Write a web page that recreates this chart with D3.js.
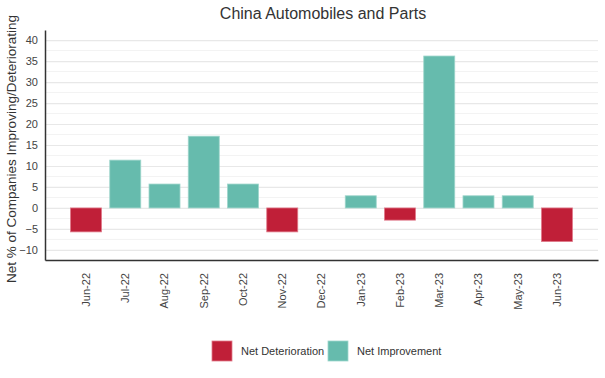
<!DOCTYPE html>
<html>
<head>
<meta charset="utf-8">
<script src="https://cdn.jsdelivr.net/npm/d3@7"></script>
<style>
  body { margin: 0; background: #fff; }
  svg { display: block; font-family: "Liberation Sans", Arial, sans-serif; }
</style>
</head>
<body>
<div id="chart"></div>
<script>
// China Automobiles and Parts - net % improving / deteriorating by month
const months = ["Jun-22", "Jul-22", "Aug-22", "Sep-22", "Oct-22", "Nov-22", "Dec-22",
                "Jan-23", "Feb-23", "Mar-23", "Apr-23", "May-23", "Jun-23"];
const netValues = [-5.7, 11.4, 5.7, 17.1, 5.7, -5.7, 0, 2.9, -2.9, 36.2, 2.9, 2.9, -8.0];
const yTicks = [-10, -5, 0, 5, 10, 15, 20, 25, 30, 35, 40];
const seriesNames = ["Net Deterioration", "Net Improvement"];

const COLOR_DOWN = "#c01f38";
const COLOR_UP = "#66bbad";

const width = 605, height = 378;
const plot = { left: 45, right: 598, top: 30, bottom: 260 };

const svg = d3.select("#chart").append("svg")
  .attr("width", width)
  .attr("height", height);

const x = d3.scaleBand()
  .domain(months)
  .range([plot.left, plot.right])
  .paddingInner(0.21)
  .paddingOuter(0.65);

const y = d3.scaleLinear()
  .domain([-12.4, 42.4])
  .range([plot.bottom, plot.top]);

// minor gridlines (every 2.5)
const minorTicks = d3.range(-10, 42.5, 2.5).filter(v => v % 5 !== 0);
svg.append("g")
  .selectAll("line")
  .data(minorTicks)
  .join("line")
  .attr("x1", plot.left).attr("x2", plot.right)
  .attr("y1", d => y(d)).attr("y2", d => y(d))
  .attr("stroke", "#f3f3f3")
  .attr("stroke-width", 1);

// major gridlines
svg.append("g")
  .attr("transform", `translate(${plot.left},0)`)
  .call(d3.axisLeft(y).tickValues(yTicks).tickSize(-(plot.right - plot.left)).tickFormat(""))
  .call(g => g.select(".domain").remove())
  .call(g => g.selectAll("line").attr("stroke", "#e8e8e8").attr("stroke-width", 1.2));

// bars
svg.append("g")
  .selectAll("rect")
  .data(months.map((m, i) => ({ month: m, value: netValues[i] })))
  .join("rect")
  .attr("x", d => x(d.month))
  .attr("width", x.bandwidth())
  .attr("y", d => y(Math.max(0, d.value)))
  .attr("height", d => Math.abs(y(d.value) - y(0)))
  .attr("fill", d => d.value < 0 ? COLOR_DOWN : COLOR_UP)
  .attr("stroke", d => d.value < 0 ? "#e07a8a" : "#9fd6cc")
  .attr("stroke-width", 0.8);

// y axis
svg.append("g")
  .attr("transform", `translate(${plot.left},0)`)
  .call(d3.axisLeft(y).tickValues(yTicks).tickSize(0).tickPadding(7))
  .call(g => g.select(".domain").attr("stroke", "#333").attr("stroke-width", 1.5))
  .call(g => g.selectAll("text")
    .style("font-size", "11px")
    .style("fill", "#444")
    .style("font-family", "Liberation Sans, Arial, sans-serif"));

// x axis
svg.append("g")
  .attr("transform", `translate(0,${plot.bottom})`)
  .call(d3.axisBottom(x).tickSize(0).tickPadding(0))
  .call(g => g.select(".domain").attr("stroke", "#333").attr("stroke-width", 1.5))
  .call(g => g.selectAll("text")
    .attr("transform", "rotate(-90)")
    .attr("text-anchor", "end")
    .attr("x", -13)
    .attr("y", 0)
    .attr("dy", "0.35em")
    .style("font-size", "11px")
    .style("fill", "#444")
    .style("font-family", "Liberation Sans, Arial, sans-serif"));

// title
svg.append("text")
  .attr("x", 323)
  .attr("y", 19)
  .attr("text-anchor", "middle")
  .style("font-size", "16px")
  .style("fill", "#333")
  .text("China Automobiles and Parts");

// y axis label
svg.append("text")
  .attr("transform", "rotate(-90)")
  .attr("x", -149)
  .attr("y", 16)
  .attr("text-anchor", "middle")
  .style("font-size", "13.5px")
  .style("fill", "#333")
  .text("Net % of Companies Improving/Deteriorating");

// legend
const legend = svg.append("g");
const legendItems = [
  { label: seriesNames[0], color: COLOR_DOWN, stroke: "#e07a8a", x: 212 },
  { label: seriesNames[1], color: COLOR_UP, stroke: "#9fd6cc", x: 328 }
];
legendItems.forEach(d => {
  legend.append("rect")
    .attr("x", d.x).attr("y", 341)
    .attr("width", 20).attr("height", 20)
    .attr("fill", d.color)
    .attr("stroke", d.stroke)
    .attr("stroke-width", 0.8);
  legend.append("text")
    .attr("x", d.x + 29).attr("y", 355)
    .style("font-size", "11px")
    .style("fill", "#333")
    .text(d.label);
});
</script>
</body>
</html>
